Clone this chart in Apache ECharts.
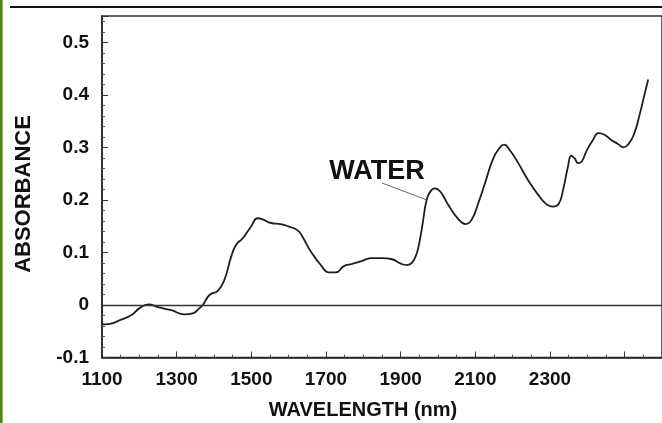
<!DOCTYPE html>
<html>
<head>
<meta charset="utf-8">
<script src="https://cdn.jsdelivr.net/npm/echarts@6/dist/echarts.min.js"></script>
<style>
html,body{margin:0;padding:0;background:#fff;}
#c{width:662px;height:423px;}
</style>
</head>
<body>
<div id="c"></div>
<script>
// Wavelength (nm) and absorbance
var wavelength = [1100,1121,1148,1179,1201,1226,1246,1272,1286,1321,1343,1361,1370,1388,1410,1428,1446,1459,1477,1499,1517,1530,1553,1579,1601,1624,1637,1659,1686,1708,1726,1748,1770,1797,1823,1850,1877,1899,1917,1930,1943,1953,1960,1968,1977,1991,2006,2028,2055,2074,2090,2108,2126,2148,2166,2177,2192,2215,2241,2268,2290,2308,2323,2335,2348,2357,2366,2375,2385,2397,2415,2430,2446,2464,2481,2497,2512,2526,2539,2552,2563];
var absorbance = [-0.037,-0.036,-0.029,-0.019,-0.006,0.001,-0.003,-0.008,-0.010,-0.018,-0.016,-0.006,0.000,0.019,0.027,0.048,0.092,0.114,0.127,0.149,0.165,0.163,0.156,0.154,0.149,0.142,0.130,0.102,0.076,0.062,0.062,0.074,0.078,0.084,0.089,0.089,0.087,0.079,0.076,0.080,0.098,0.130,0.160,0.195,0.213,0.222,0.216,0.190,0.163,0.154,0.162,0.194,0.232,0.279,0.300,0.305,0.295,0.270,0.238,0.210,0.192,0.187,0.192,0.219,0.263,0.284,0.279,0.270,0.273,0.292,0.314,0.327,0.324,0.314,0.307,0.300,0.308,0.327,0.359,0.397,0.429];
var xLabels = [1100,1300,1500,1700,1900,2100,2300];
var yLabels = [-0.1,0,0.1,0.2,0.3,0.4,0.5];
var xTitle = 'WAVELENGTH (nm)';
var yTitle = 'ABSORBANCE';
var annotation = 'WATER';

var pts = wavelength.map(function(w,i){return [w, absorbance[i]];});
var font = '"Liberation Sans", Arial, sans-serif';

var chart = echarts.init(document.getElementById('c'), null, {renderer:'canvas'});
chart.setOption({
  animation:false,
  backgroundColor:'#fff',
  grid:{left:102, top:16, right:-3, bottom:65.5, show:true, borderColor:'#333', borderWidth:1.5, containLabel:false},
  xAxis:{
    type:'value', min:1100, max:2600, interval:200,
    axisLine:{show:true, onZero:false, lineStyle:{color:'#222', width:1.5}},
    axisTick:{show:true, inside:true, length:6, lineStyle:{color:'#333', width:1}},
    minorTick:{show:true, splitNumber:4, length:3, lineStyle:{color:'#555', width:1}},
    splitLine:{show:false},
    axisLabel:{
      margin:13, color:'#111', fontFamily:font, fontWeight:'bold', fontSize:19,
      showMaxLabel:false,
      formatter:function(v){ return xLabels.indexOf(Math.round(v))>=0 ? String(Math.round(v)) : ''; }
    }
  },
  yAxis:{
    type:'value', min:-0.1, max:0.55, interval:0.1,
    axisLine:{show:true, onZero:false, lineStyle:{color:'#222', width:1.5}},
    axisTick:{show:true, inside:true, length:6, lineStyle:{color:'#333', width:1}},
    minorTick:{show:true, splitNumber:5, length:3, lineStyle:{color:'#555', width:1}},
    splitLine:{show:false},
    axisLabel:{
      margin:13, color:'#111', fontFamily:font, fontWeight:'bold', fontSize:19,
      showMaxLabel:false,
      formatter:function(v){
        var r = Math.round(v*10)/10;
        for (var i=0;i<yLabels.length;i++){ if (Math.abs(yLabels[i]-v)<1e-6) return r===0?'0':r.toFixed(1); }
        return '';
      }
    }
  },
  series:[{
    type:'line', data:pts, smooth:0.5, showSymbol:false, symbol:'none',
    lineStyle:{color:'#1e1e1e', width:1.8},
    markLine:{
      silent:true, symbol:['none','none'], label:{show:false},
      lineStyle:{color:'#333', width:1.3, type:'solid'},
      data:[{yAxis:0}]
    }
  }],
  graphic:[
    {type:'rect', left:0, top:0, shape:{x:0,y:0,width:2,height:423}, style:{fill:'#3d8b1e'}, z:100},
    {type:'rect', left:2, top:0, shape:{x:0,y:0,width:1,height:423}, style:{fill:'#c8a040'}, z:100},
    {type:'line', shape:{x1:10,y1:7,x2:662,y2:7}, style:{stroke:'#111', lineWidth:2}, z:100},
    {type:'text', x:363, y:410, style:{text:xTitle, font:'bold 20px '+font, fill:'#111', textAlign:'center', textVerticalAlign:'middle'}},
    {type:'text', x:24, y:194, rotation:Math.PI/2, style:{text:yTitle, font:'bold 22px '+font, fill:'#111', textAlign:'center', textVerticalAlign:'middle'}},
    {type:'text', x:377, y:172, style:{text:annotation, font:'bold 27px '+font, fill:'#111', textAlign:'center', textVerticalAlign:'middle'}},
    {type:'line', shape:{x1:382,y1:183,x2:427,y2:200}, style:{stroke:'#666', lineWidth:1}}
  ]
});
</script>
</body>
</html>
